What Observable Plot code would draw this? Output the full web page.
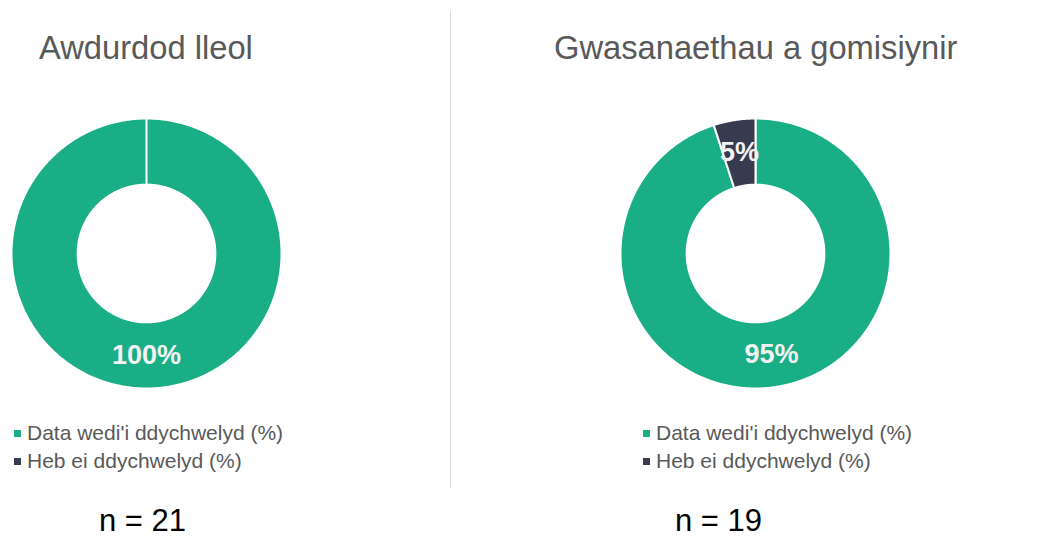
<!DOCTYPE html>
<html><head><meta charset="utf-8">
<script src="https://cdn.jsdelivr.net/npm/d3@7"></script>
<script src="https://cdn.jsdelivr.net/npm/@observablehq/plot@0.6"></script>
<style>
body{margin:0;background:#fff;}
#page{position:relative;width:1051px;height:537px;overflow:hidden;background:#fff;font-family:"Liberation Sans",Arial,sans-serif;}
.title{position:absolute;font-size:32.7px;line-height:1;color:#595959;white-space:nowrap;}
.legend{position:absolute;font-size:21px;line-height:28px;color:#595959;white-space:nowrap;}
.legend .row{display:flex;align-items:center;}
.legend .sw{width:7px;height:7px;margin-right:6px;}
.n{position:absolute;font-size:31px;line-height:23px;color:#000;white-space:nowrap;}
.divider{position:absolute;width:1px;background:#D9D9D9;}
.donut{position:absolute;}
</style></head><body><div id="page"></div>
<script>
// ---- data ----
const panels = ["Awdurdod lleol", "Gwasanaethau a gomisiynir"];
const categories = ["Data wedi'i ddychwelyd (%)", "Heb ei ddychwelyd (%)"];
const returned = [100, 95];
const notReturned = [0, 5];
const counts = [21, 19];
const colors = ["#1AAE87", "#383A4F"];

// ---- layout (not data) ----
const layout = [
  {title: [39, 32], donut: [11, 118], legend: [14, 419], n: [99, 509]},
  {title: [554, 32], donut: [620, 118], legend: [643, 419], n: [675, 509]}
];
const SIZE = 270, INNER = 0.51;

const page = document.getElementById("page");
const div = document.createElement("div");
div.className = "divider";
div.style.left = "450px"; div.style.top = "11px"; div.style.height = "477px";
page.appendChild(div);

function ring(a0, a1, r0, r1) {
  const pts = [];
  const n = Math.max(2, Math.ceil((a1 - a0) / (Math.PI / 360)));
  for (let i = 0; i <= n; i++) { const a = a0 + (a1 - a0) * i / n; pts.push({x: r1 * Math.sin(a), y: r1 * Math.cos(a)}); }
  for (let i = n; i >= 0; i--) { const a = a0 + (a1 - a0) * i / n; pts.push({x: r0 * Math.sin(a), y: r0 * Math.cos(a)}); }
  return pts;
}

panels.forEach((name, p) => {
  const L = layout[p];
  const values = [returned[p], notReturned[p]];
  const total = d3.sum(values);
  let acc = 0;
  const slices = values.map((v, k) => {
    const a0 = acc / total * 2 * Math.PI; acc += v;
    const a1 = acc / total * 2 * Math.PI;
    return {category: categories[k], value: v, color: colors[k], a0, a1};
  }).filter(s => s.value > 0);
  const rm = (1 + INNER) / 2;
  const labels = slices.map(s => {
    const am = (s.a0 + s.a1) / 2;
    return {x: rm * Math.sin(am), y: rm * Math.cos(am), text: `${s.value}%`};
  });

  const chart = Plot.plot({
    width: SIZE, height: SIZE, margin: 0,
    x: {domain: [-1, 1], axis: null},
    y: {domain: [-1, 1], axis: null},
    style: {background: "transparent", fontFamily: "Liberation Sans, Arial, sans-serif", overflow: "visible"},
    marks: [
      ...slices.map(s => Plot.line(ring(s.a0, s.a1, INNER, 1), {x: "x", y: "y", fill: s.color, stroke: "white", strokeWidth: 2, curve: "linear-closed"})),
      Plot.text(labels, {x: "x", y: "y", text: "text", fill: "#F2F2F2", fontSize: 27, fontWeight: "bold"})
    ]
  });
  chart.classList.add("donut");
  chart.style.left = L.donut[0] + "px"; chart.style.top = L.donut[1] + "px";
  page.appendChild(chart);

  const t = document.createElement("div");
  t.className = "title"; t.textContent = name;
  t.style.left = L.title[0] + "px"; t.style.top = L.title[1] + "px";
  page.appendChild(t);

  const lg = document.createElement("div");
  lg.className = "legend";
  lg.style.left = L.legend[0] + "px"; lg.style.top = L.legend[1] + "px";
  categories.forEach((c, k) => {
    const row = document.createElement("div"); row.className = "row";
    const sw = document.createElement("span"); sw.className = "sw"; sw.style.background = colors[k];
    const tx = document.createElement("span"); tx.textContent = c;
    row.appendChild(sw); row.appendChild(tx); lg.appendChild(row);
  });
  page.appendChild(lg);

  const nn = document.createElement("div");
  nn.className = "n"; nn.textContent = `n = ${counts[p]}`;
  nn.style.left = L.n[0] + "px"; nn.style.top = L.n[1] + "px";
  page.appendChild(nn);
});
</script>
</body></html>
